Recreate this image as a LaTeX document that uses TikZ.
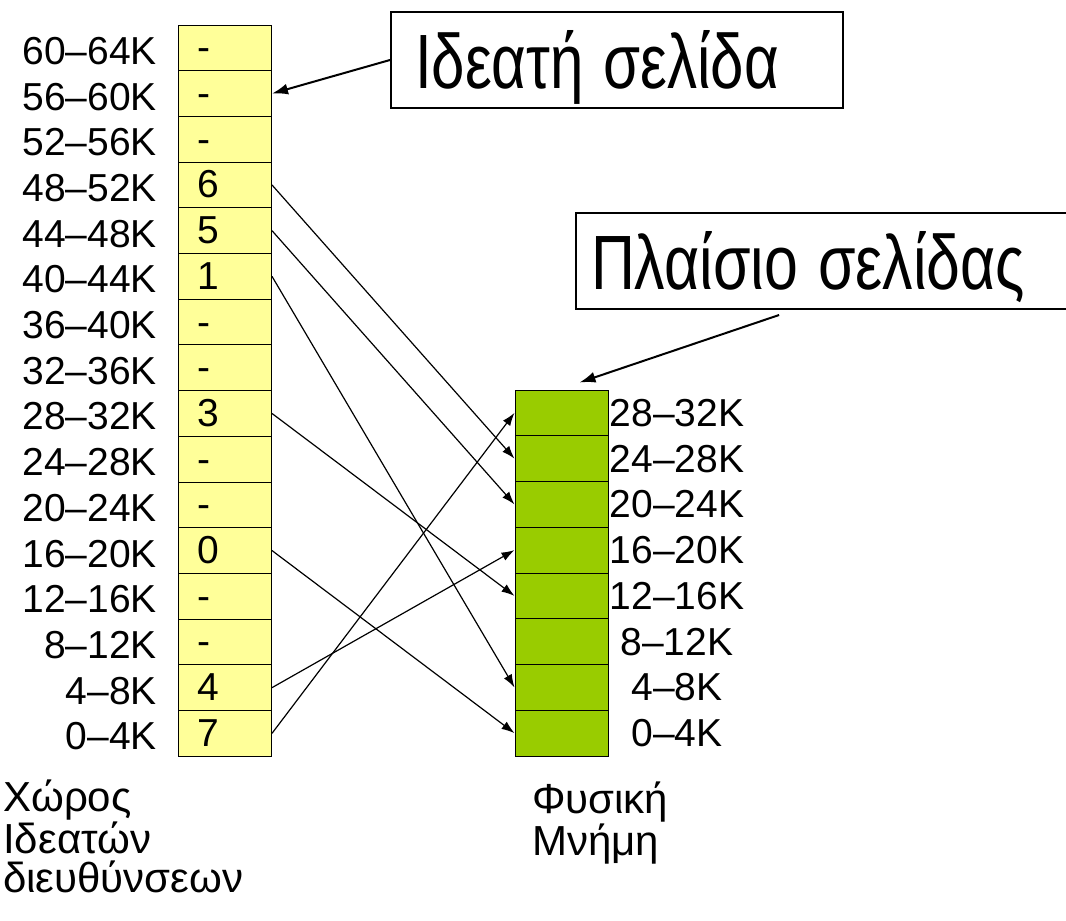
\documentclass[tikz,border=0pt]{standalone}
\usepackage{fontspec}
\setmainfont{Liberation Sans}
\usetikzlibrary{arrows.meta,calc}

\definecolor{pageyellow}{RGB}{255,255,153}
\definecolor{framegreen}{RGB}{153,204,0}

\begin{document}
\begin{tikzpicture}[x=1pt,y=-1pt,
    vcell/.style={draw,line width=1pt,fill=pageyellow,minimum height=45.7pt,
        text width=55pt,inner xsep=19pt,inner ysep=0pt,align=left,
        text height=26pt,text depth=0pt,font=\fontsize{39}{40}\selectfont},
    fcell/.style={draw,line width=1pt,fill=framegreen,minimum width=93pt,
        minimum height=45.75pt,inner sep=0pt},
    addr/.style={inner sep=0pt,text height=27pt,text depth=0pt,
        font=\fontsize{39}{40}\selectfont},
    note/.style={draw,line width=2pt,minimum height=96pt,align=left,
        inner ysep=0pt,text height=57pt,text depth=0pt,
        font=\fontsize{77}{80}\selectfont},
    caption/.style={inner sep=0pt,align=left,font=\fontsize{42}{39.5}\selectfont},
    map/.style={line width=1.2pt,-{Latex[length=13pt,width=9pt]}},
    pointer/.style={line width=2pt,-{Latex[length=16pt,width=11pt]}}]

    \useasboundingbox (0,0) rectangle (1066,921);

    % virtual address space
    \foreach \p/\e in {0/7,1/4,2/-,3/-,4/0,5/-,6/-,7/3,8/-,9/-,10/1,11/5,12/6,13/-,14/-,15/-}{
        \pgfmathsetmacro\yc{25+(15.5-\p)*45.7}
        \pgfmathtruncatemacro\lo{4*\p}
        \pgfmathtruncatemacro\hi{4*\p+4}
        \node[vcell] (v\p) at (225,\yc) {\e};
        \node[addr,anchor=east] (vl\p) at ($(v\p.west)+(-21,3)$) {\lo--\hi K};
    }

    % physical memory
    \foreach \f in {0,...,7}{
        \pgfmathsetmacro\yc{390+(7.5-\f)*45.75}
        \pgfmathtruncatemacro\lo{4*\f}
        \pgfmathtruncatemacro\hi{4*\f+4}
        \node[fcell] (f\f) at (561.5,\yc) {};
        \node[addr] (fl\f) at (677,\yc) {\lo--\hi K};
    }

    \foreach \p/\f in {12/6,11/5,10/1,7/3,4/0,1/4,0/7}{
        \draw[map] (v\p.east) -- (f\f.west);
    }

    % callouts
    \node[note,anchor=north west,text width=404pt,inner xsep=24pt] (vpage) at (390,11)
        {\scalebox{0.78}[1]{Ιδεατή σελίδα}};
    \node[note,anchor=north west,text width=472pt,inner xsep=15pt] (pframe) at (575,212)
        {\scalebox{0.79}[1]{Πλαίσιο σελίδας}};

    \coordinate (pstart) at ($(pframe.south west)!0.405!(pframe.south east)+(0,5)$);
    \coordinate (ptip) at ($(f7.north)+(18,-7)$);
    \draw[pointer] (vpage.west) -- (v14.east);
    \draw[pointer] (pstart) -- (ptip);

    \node[caption,anchor=north west] (vspace) at (3,780) {Χώρος\\Ιδεατών\\διευθύνσεων};
    \node[caption,anchor=north west] (pmem) at (532,782) {Φυσική\\Μνήμη};
\end{tikzpicture}
\end{document}
